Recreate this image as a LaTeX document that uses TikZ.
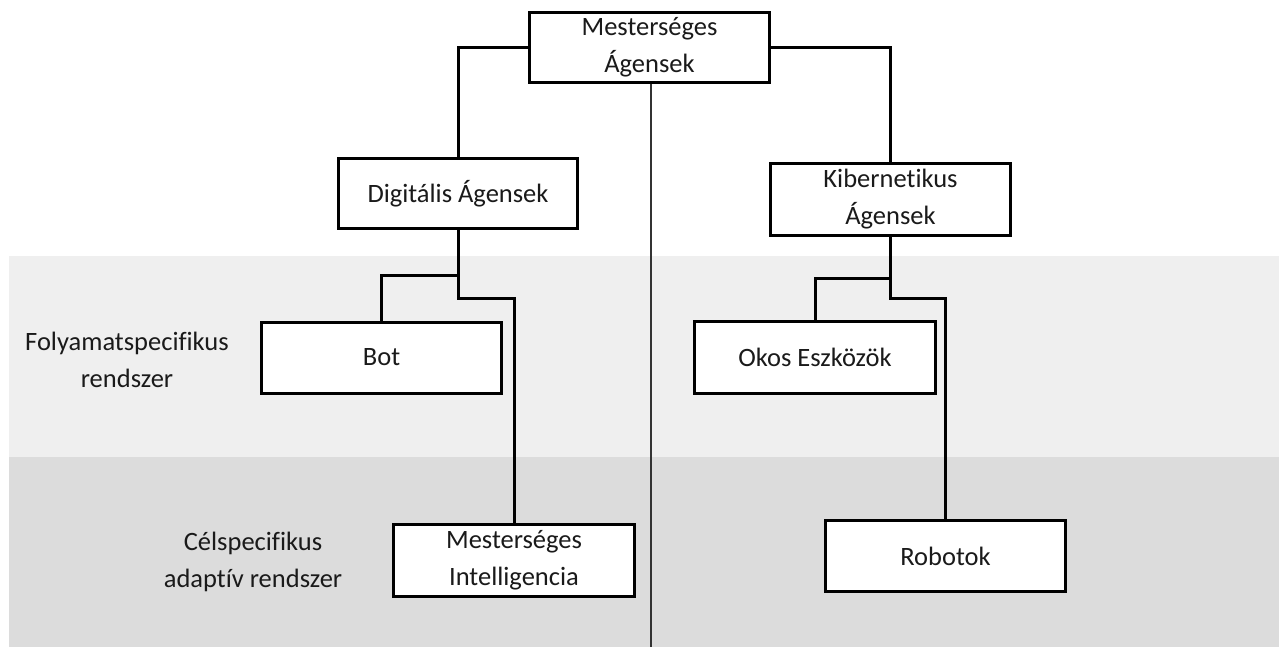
\documentclass[tikz,border=0pt]{standalone}
\usepackage{fontspec}
\setmainfont{Carlito}[Ligatures=NoCommon]
\begin{document}
\begin{tikzpicture}[x=1pt,y=-1pt,
  every node/.style={text=txtgray,font=\fontsize{26.5}{37}\selectfont,align=center},
  agentbox/.style={draw=black,line width=3pt,fill=white,inner sep=0pt},
  link/.style={draw=black,line width=3pt},
  divider/.style={draw=black!80,line width=1.3pt}]
\definecolor{txtgray}{HTML}{1A1A1A}
\definecolor{bandlight}{HTML}{EFEFEF}
\definecolor{banddark}{HTML}{DCDCDC}
\useasboundingbox (0,0) rectangle (1279,647);
\fill[white] (0,0) rectangle (1279,647);
% level bands
\fill[bandlight] (9,256) rectangle (1279,457);
\fill[banddark] (9,457) rectangle (1279,647);
% row labels
\node (lblproc) at (127,360) {Folyamatspecifikus\\rendszer};
\node (lbladapt) at (253,562) {Célspecifikus\\adaptív rendszer};
% agent boxes
\node[agentbox,minimum width=240,minimum height=70] (top) at (649.5,47.5) {Mesterséges\\Ágensek};
\node[agentbox,minimum width=239,minimum height=70] (dig) at (458,193.5) {Digitális Ágensek};
\node[agentbox,minimum width=240,minimum height=72] (kib) at (890.5,199.5) {Kibernetikus\\Ágensek};
\node[agentbox,minimum width=240,minimum height=71] (bot) at (381.5,357.5) {Bot};
\node[agentbox,minimum width=241,minimum height=72] (okos) at (815,357.5) {Okos Eszközök};
\node[agentbox,minimum width=241,minimum height=72] (mi) at (514,560.5) {Mesterséges\\Intelligencia};
\node[agentbox,minimum width=240,minimum height=71] (rob) at (945.5,556) {Robotok};
% central divider
\coordinate (divend) at (651,647);
\draw[divider] (top.south -| divend) -- (divend);
% tree connectors
\draw[link] (top.west) -| (dig.north);
\draw[link] (top.east) -| (kib.north);
\draw[link] (dig.south) -- ++(0,45) -| (bot.north);
\draw[link] (dig.south) -- ++(0,68) -| (mi.north);
\draw[link] (kib.south) -- ++(0,41) -| (okos.north);
\draw[link] (kib.south) -- ++(0,61) -| (rob.north);
\end{tikzpicture}
\end{document}
